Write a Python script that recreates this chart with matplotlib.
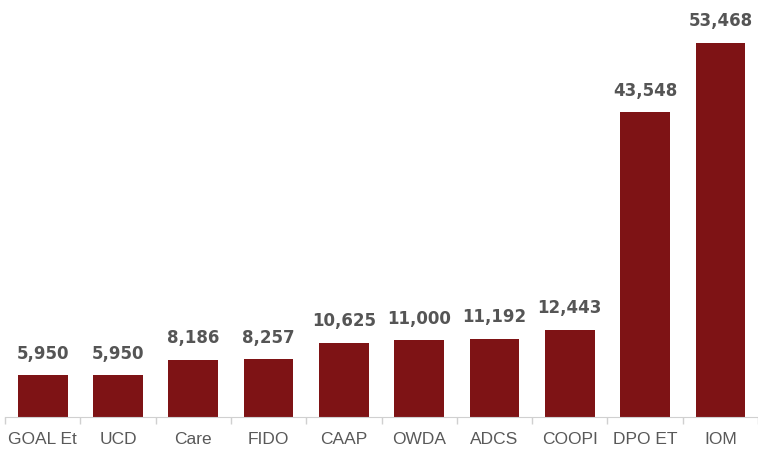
import numpy as np
import matplotlib.pyplot as plt

# datos
categorias = ["GOAL Et", "UCD", "Care", "FIDO", "CAAP", "OWDA", "ADCS", "COOPI", "DPO ET", "IOM"]
valores = [5950, 5950, 8186, 8257, 10625, 11000, 11192, 12443, 43548, 53468]

plt.rcParams['font.family'] = ['Liberation Sans', 'DejaVu Sans']

fig = plt.figure(figsize=(7.58, 4.53), dpi=100)
ax = fig.add_axes([0.0066, 0.0795, 0.9934, 0.9205])

x = np.arange(len(categorias))
barras = ax.bar(x, valores, width=0.66, color="#7e1315")

for xi, v in zip(x, valores):
    ax.annotate(f"{v:,}", (xi, v), xytext=(0, 9), textcoords="offset points",
                ha="center", va="bottom", fontsize=12, fontweight="bold",
                color="#555555", family="DejaVu Sans")

ax.set_xlim(-0.5, len(categorias) - 0.5)
ax.set_ylim(0, 59600)
ax.set_xticks(x)
ax.set_xticklabels(categorias, fontsize=12.5, color="#595959")
ax.set_xticks(np.arange(-0.5, len(categorias)), minor=True)
ax.tick_params(axis="x", which="major", length=0, pad=11)
ax.tick_params(axis="x", which="minor", length=5, color="#d0d0d0", width=1)
ax.set_yticks([])
for s in ["top", "right", "left"]:
    ax.spines[s].set_visible(False)
ax.spines["bottom"].set_color("#d0d0d0")

plt.savefig("out.png", dpi=100)
